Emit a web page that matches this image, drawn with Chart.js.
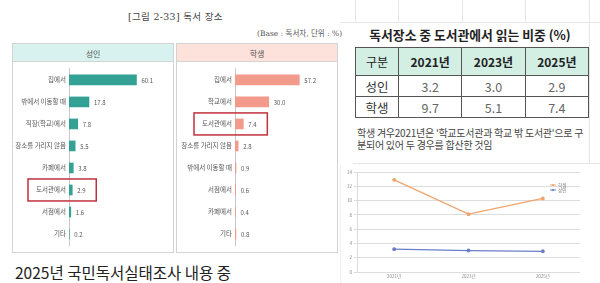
<!DOCTYPE html>
<html><head><meta charset="utf-8">
<script src="https://cdn.jsdelivr.net/npm/chart.js@4/dist/chart.umd.min.js"></script>
<style>
html,body{margin:0;padding:0;background:#fff;}
body{width:600px;height:283px;position:relative;overflow:hidden;font-family:"Noto Sans CJK KR","Noto Sans",sans-serif;}
.abs{position:absolute;}
.box{position:absolute;border:1px solid #d3d3d3;box-sizing:border-box;}
.hdr{position:absolute;box-sizing:border-box;text-align:center;font-size:8px;color:#555;line-height:19px;}
.fl{position:absolute;background:#e6e6e6;}
table.t{position:absolute;left:355px;top:47px;width:234px;border-collapse:collapse;font-family:"Noto Sans CJK KR",sans-serif;}
table.t td,table.t th{border:1px solid #555;text-align:center;padding:0;}
table.t th{background:#d3efe4;height:27px;font-size:12px;color:#222;}
table.t td{height:20px;font-size:12.5px;color:#666;}
</style></head>
<body>
<div class="abs" style="left:128px;top:9px;font-family:'DejaVu Serif','Noto Sans CJK KR',serif;font-size:9.5px;color:#444;white-space:nowrap;letter-spacing:0.3px">[그림 2-33] 독서 장소</div>
<div class="abs" style="left:257px;top:27px;font-size:7.5px;color:#555;white-space:nowrap;font-family:'DejaVu Serif','Noto Sans CJK KR',serif;">(Base : 독서자, 단위 : %)</div>

<div class="box" style="left:12px;top:43px;width:162px;height:210px;"></div>
<div class="hdr" style="left:12px;top:43px;width:162px;height:19px;background:#d8f2ef;border:1px solid #d3d3d3;">성인</div>
<div class="box" style="left:176px;top:43px;width:162px;height:210px;"></div>
<div class="hdr" style="left:176px;top:43px;width:162px;height:19px;background:#fde1db;border:1px solid #d3d3d3;">학생</div>

<canvas id="cAdult" class="abs" width="161" height="190" style="left:13px;top:62px"></canvas>
<canvas id="cStudent" class="abs" width="161" height="190" style="left:177px;top:62px"></canvas>

<div class="abs" style="left:15px;top:261px;font-size:15.5px;color:#222;white-space:nowrap;">2025년 국민독서실태조사 내용 중</div>

<!-- faint spreadsheet lines -->
<div class="fl" style="left:340px;top:22px;width:260px;height:1px"></div>
<div class="fl" style="left:355px;top:0;width:1px;height:22px"></div>
<div class="fl" style="left:398px;top:0;width:1px;height:22px"></div>
<div class="fl" style="left:462px;top:0;width:1px;height:22px"></div>
<div class="fl" style="left:525px;top:0;width:1px;height:22px"></div>
<div class="fl" style="left:589px;top:0;width:1px;height:163px"></div>
<div class="fl" style="left:353px;top:163px;width:247px;height:1px"></div>
<div class="fl" style="left:340px;top:165px;width:1px;height:118px;background:#eee"></div>

<div class="abs" style="left:340px;top:25px;width:260px;text-align:center;font-size:12.8px;font-weight:bold;color:#222;white-space:nowrap;">독서장소 중 도서관에서 읽는 비중 (%)</div>
<table class="t" id="tbl"></table>
<div class="abs" style="left:357px;top:127px;font-size:10px;line-height:12px;color:#444;white-space:nowrap;letter-spacing:-0.25px">학생 겨우2021년은 '학교도서관과 학교 밖 도서관'으로 구<br>분되어 있어 두 경우를 합산한 것임</div>

<canvas id="cLine" class="abs" width="260" height="120" style="left:340px;top:163px"></canvas>

<script>
const adultCategories = ['집에서','밖에서 이동할 때','직장(학교)에서','장소를 가리지 않음','카페에서','도서관에서','서점에서','기타'];
const adultValues = [60.1, 17.8, 7.8, 5.5, 3.8, 2.9, 1.6, 0.2];
const studentCategories = ['집에서','학교에서','도서관에서','장소를 가리지 않음','밖에서 이동할 때','서점에서','카페에서','기타'];
const studentValues = [57.2, 30.0, 7.4, 2.8, 0.9, 0.6, 0.4, 0.8];
const highlightCategory = '도서관에서';

const tableHeader = '구분';
const years = ['2021년','2023년','2025년'];
const rowLabels = ['성인','학생'];
const libraryAdult = [3.2, 3.0, 2.9];
const libraryStudent = [9.7, 5.1, 7.4];
const lineYTicks = [0, 2, 4, 6, 8, 10, 12, 14];

// table
(function(){
  const t = document.getElementById('tbl');
  let h = '<tr><th style="width:42px;font-weight:normal">'+tableHeader+'</th>';
  years.forEach(y => h += '<th>'+y+'</th>');
  h += '</tr>';
  [libraryAdult, libraryStudent].forEach((arr, r) => {
    h += '<tr><td style="color:#333">'+rowLabels[r]+'</td>';
    arr.forEach(v => h += '<td>'+v.toFixed(1)+'</td>');
    h += '</tr>';
  });
  t.innerHTML = h;
})();

const FONT = '"Noto Sans CJK KR", "Noto Sans", sans-serif';

const barLabels = {
  id: 'barLabels',
  afterDatasetsDraw(chart, args, opts) {
    const ctx = chart.ctx;
    const meta = chart.getDatasetMeta(0);
    const data = chart.data.datasets[0].data;
    ctx.save();
    ctx.font = '6px ' + FONT;
    ctx.fillStyle = '#555';
    ctx.textBaseline = 'middle';
    meta.data.forEach((bar, i) => {
      ctx.fillText(data[i].toFixed(1), bar.x + 5, bar.y + 0.5);
    });
    const idx = chart.data.labels.indexOf(opts.highlight);
    if (idx >= 0) {
      const bar = meta.data[idx];
      const left = chart.chartArea.left - 41;
      const right = bar.x + 24;
      ctx.strokeStyle = '#c2303c';
      ctx.lineWidth = 1.5;
      ctx.strokeRect(left, bar.y - 11, right - left, 22);
    }
    ctx.restore();
  }
};

function barChart(id, labels, values, color, max, axisW) {
  return new Chart(document.getElementById(id), {
    type: 'bar',
    data: { labels: labels, datasets: [{ data: values, backgroundColor: color, barThickness: 10 }] },
    options: {
      indexAxis: 'y', responsive: false, animation: false,
      layout: { padding: { top: 6, bottom: 7, right: 4, left: 0 } },
      plugins: { legend: { display: false }, tooltip: { enabled: false }, barLabels: { highlight: highlightCategory } },
      scales: {
        x: { display: false, min: 0, max: max },
        y: {
          grid: { display: false, drawTicks: false },
          border: { display: true, color: '#c8c8c8', width: 1 },
          ticks: { color: '#555', font: { family: FONT, size: 6.5 }, padding: 3 },
          afterFit: s => { s.width = axisW; }
        }
      }
    },
    plugins: [barLabels]
  });
}
barChart('cAdult', adultCategories, adultValues, '#33a193', 90, 56);
barChart('cStudent', studentCategories, studentValues, '#f29a8b', 88, 58);

const lineLegend = {
  id: 'lineLegend',
  afterDraw(chart) {
    const ctx = chart.ctx;
    const ds = chart.data.datasets.slice().reverse();
    ctx.save();
    ctx.font = '4.5px ' + FONT;
    ctx.textBaseline = 'middle';
    ds.forEach((d, i) => {
      const x = 210, y = 22 + i * 5;
      ctx.strokeStyle = d.borderColor; ctx.lineWidth = 1;
      ctx.beginPath(); ctx.moveTo(x, y); ctx.lineTo(x + 6, y); ctx.stroke();
      ctx.fillStyle = d.borderColor;
      ctx.beginPath(); ctx.arc(x + 3, y, 1, 0, Math.PI * 2); ctx.fill();
      ctx.fillStyle = '#777';
      ctx.fillText(d.label, x + 8, y);
    });
    ctx.restore();
  }
};

new Chart(document.getElementById('cLine'), {
  type: 'line',
  data: {
    labels: years,
    datasets: [
      { label: rowLabels[0], data: libraryAdult, borderColor: '#6c7fc6', backgroundColor: '#6c7fc6', borderWidth: 1.3, pointRadius: 1.3, fill: false, tension: 0 },
      { label: rowLabels[1], data: libraryStudent, borderColor: '#eea46a', backgroundColor: '#eea46a', borderWidth: 1.3, pointRadius: 1.3, fill: false, tension: 0 }
    ]
  },
  options: {
    responsive: false, animation: false,
    layout: { padding: { top: 9, right: 20, bottom: 2, left: 0 } },
    plugins: { legend: { display: false }, tooltip: { enabled: false } },
    scales: {
      x: {
        offset: true,
        grid: { display: false, drawTicks: false },
        border: { display: false },
        ticks: { color: '#888', font: { family: FONT, size: 4.5 }, padding: 2 },
        afterFit: s => { s.height = 9; }
      },
      y: {
        stacked: true, min: 0, max: 14,
        afterBuildTicks: s => { s.ticks = lineYTicks.map(v => ({ value: v })); },
        grid: { color: '#dcdcdc', lineWidth: 1, drawTicks: true, tickLength: 3 },
        border: { display: true, color: '#dcdcdc' },
        ticks: { color: '#888', font: { family: FONT, size: 4.5 }, padding: 2 },
        afterFit: s => { s.width = 17; }
      }
    }
  },
  plugins: [lineLegend]
});
</script>
</body></html>
